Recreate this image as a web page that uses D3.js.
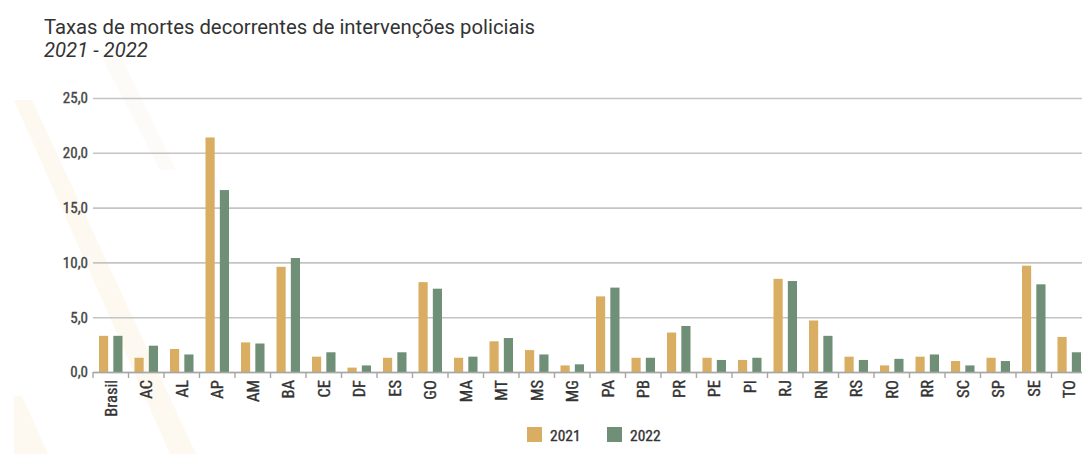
<!DOCTYPE html>
<html>
<head>
<meta charset="utf-8">
<script src="https://cdn.jsdelivr.net/npm/d3@7"></script>
<style>
  body { margin: 0; background: #fff; }
  svg { display: block; }
  .title { font-family: Roboto, "Liberation Sans", sans-serif; fill: #333; }
  .tick text, .legend text { font-family: "Liberation Sans Narrow", "Roboto Condensed", "Liberation Sans", sans-serif; }
</style>
</head>
<body>
<div id="chart"></div>
<script>
// data
const categories = ['Brasil', 'AC', 'AL', 'AP', 'AM', 'BA', 'CE', 'DF', 'ES', 'GO', 'MA', 'MT', 'MS', 'MG',
  'PA', 'PB', 'PR', 'PE', 'PI', 'RJ', 'RN', 'RS', 'RO', 'RR', 'SC', 'SP', 'SE', 'TO'];
const years = ['2021', '2022'];
const values2021 = [3.3, 1.3, 2.1, 21.4, 2.7, 9.6, 1.4, 0.4, 1.3, 8.2, 1.3, 2.8, 2.0, 0.6,
  6.9, 1.3, 3.6, 1.3, 1.1, 8.5, 4.7, 1.4, 0.6, 1.4, 1.0, 1.3, 9.7, 3.2];
const values2022 = [3.3, 2.4, 1.6, 16.6, 2.6, 10.4, 1.8, 0.6, 1.8, 7.6, 1.4, 3.1, 1.6, 0.7,
  7.7, 1.3, 4.2, 1.1, 1.3, 8.3, 3.3, 1.1, 1.2, 1.6, 0.6, 1.0, 8.0, 1.8];
const yTicks = [0, 5, 10, 15, 20, 25];

const colors = { '2021': '#d9ae62', '2022': '#6f9076' };
const width = 1082, height = 454;
const margin = { top: 98, left: 93, bottom: 82 };

const svg = d3.select('#chart')
  .append('svg')
  .attr('width', width)
  .attr('height', height);

// faint background decoration
const deco = svg.append('g');
deco.append('path')
  .attr('d', 'M14,100 L32,100 L196,454 L170,454 Z')
  .attr('fill', '#fdf9f1');
deco.append('path')
  .attr('d', 'M98,50 L118,50 L176,170 L160,170 Z')
  .attr('fill', '#fdfbf7');
deco.append('path')
  .attr('d', 'M14,396 L22,396 L48,454 L14,454 Z')
  .attr('fill', '#fdf9f1');

// title
svg.append('text')
  .attr('class', 'title')
  .attr('x', 44).attr('y', 34)
  .attr('font-size', 20.3)
  .text('Taxas de mortes decorrentes de intervenções policiais');
svg.append('text')
  .attr('class', 'title')
  .attr('x', 44).attr('y', 57)
  .attr('font-size', 20.3)
  .attr('font-style', 'italic')
  .text('2021 - 2022');

// scales
const x = d3.scaleBand()
  .domain(categories)
  .range([margin.left, margin.left + categories.length * 35.5]);

const xs = d3.scaleBand()
  .domain(years)
  .range([6, 29.5])
  .paddingInner(0.36);

const y = d3.scaleLinear()
  .domain([0, 25])
  .range([height - margin.bottom, margin.top]);

// grid + y axis
const yAxis = svg.append('g')
  .attr('transform', `translate(${margin.left},0)`)
  .call(d3.axisLeft(y)
    .tickValues(yTicks)
    .tickSize(-(width - margin.left))
    .tickPadding(5)
    .tickFormat(d => d3.format('.1f')(d).replace('.', ',')));
yAxis.select('.domain').remove();
yAxis.selectAll('.tick line')
  .attr('stroke', '#c4c4c4')
  .attr('stroke-width', 1.6);
yAxis.selectAll('.tick text')
  .attr('fill', '#444')
  .attr('stroke', '#444')
  .attr('stroke-width', 0.35)
  .attr('font-size', 15);

// bars
const rows = categories.map((c, i) => ({ cat: c, v: { '2021': values2021[i], '2022': values2022[i] } }));
const groups = svg.append('g')
  .selectAll('g')
  .data(rows)
  .join('g')
  .attr('transform', d => `translate(${x(d.cat)},0)`);
groups.selectAll('rect')
  .data(d => years.map(yr => ({ yr, value: d.v[yr] })))
  .join('rect')
  .attr('x', d => xs(d.yr))
  .attr('width', xs.bandwidth())
  .attr('y', d => y(d.value))
  .attr('height', d => y(0) - y(d.value))
  .attr('fill', d => colors[d.yr]);

// x axis
const xAxis = svg.append('g')
  .attr('transform', `translate(0,${y(0)})`)
  .call(d3.axisBottom(x).tickSize(0).tickPadding(0));
xAxis.select('.domain')
  .attr('stroke', '#a6a6a6')
  .attr('stroke-width', 1.6);
xAxis.selectAll('.tick text')
  .attr('fill', '#333')
  .attr('stroke', '#333')
  .attr('stroke-width', 0.35)
  .attr('font-size', 16.5)
  .attr('text-anchor', 'end')
  .attr('dy', '0.35em')
  .attr('transform', 'translate(0,8) rotate(-90)');
// boundary ticks between categories
svg.append('g')
  .selectAll('line')
  .data(categories)
  .join('line')
  .attr('x1', d => x(d)).attr('x2', d => x(d))
  .attr('y1', y(0)).attr('y2', y(0) + 6)
  .attr('stroke', '#a6a6a6')
  .attr('stroke-width', 1.4);

// legend
const legend = svg.append('g')
  .attr('class', 'legend')
  .selectAll('g')
  .data(years)
  .join('g')
  .attr('transform', (d, i) => `translate(${527 + i * 80},427)`);
legend.append('rect')
  .attr('width', 15).attr('height', 15)
  .attr('fill', d => colors[d]);
legend.append('text')
  .attr('x', 23).attr('y', 14)
  .attr('font-size', 15.5)
  .attr('fill', '#333')
  .attr('stroke', '#333')
  .attr('stroke-width', 0.35)
  .text(d => d);
</script>
</body>
</html>
